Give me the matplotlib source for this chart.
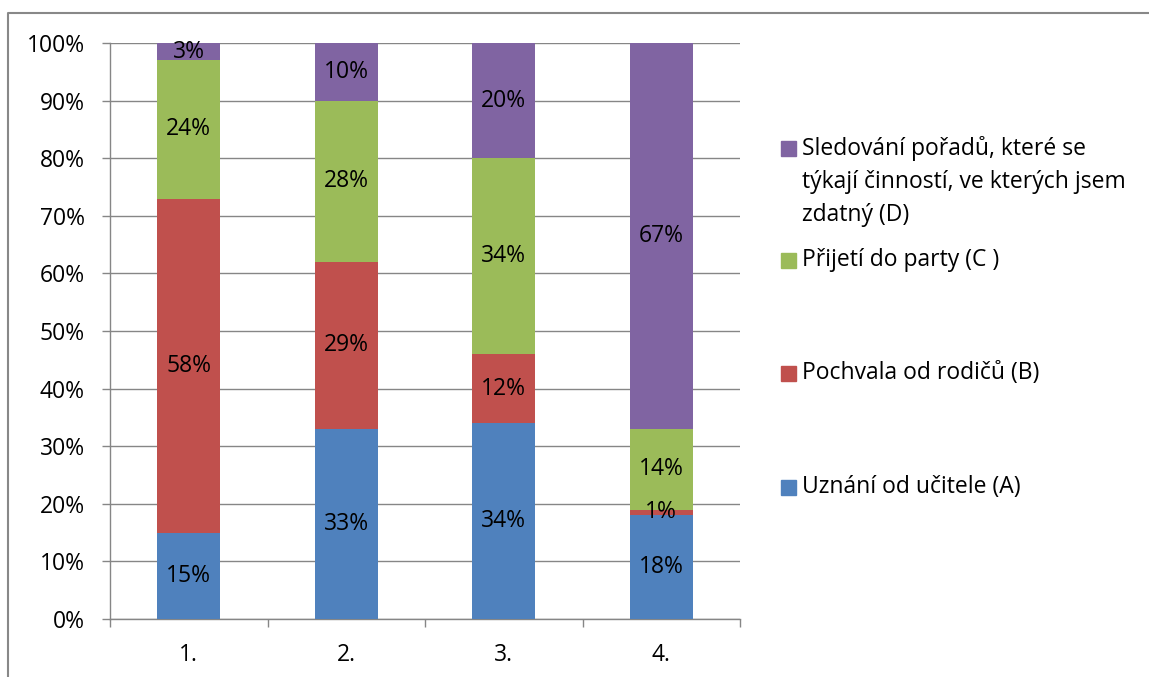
import matplotlib.pyplot as plt
from matplotlib.patches import Rectangle
from matplotlib.lines import Line2D
import numpy as np

plt.rcParams['font.family'] = ['Open Sans', 'DejaVu Sans']

# ====================
# Data
# ====================
categories = ['1.', '2.', '3.', '4.']
uznani = [15, 33, 34, 18]       # A
pochvala = [58, 29, 12, 1]      # B
prijeti = [24, 28, 34, 14]      # C
sledovani = [3, 10, 20, 67]     # D

series = [
    ('Uznání od učitele (A)', uznani, '#4F81BD'),
    ('Pochvala od rodičů (B)', pochvala, '#C0504D'),
    ('Přijetí do party (C )', prijeti, '#9BBB59'),
    ('Sledování pořadů, které se\ntýkají činností, ve kterých jsem\nzdatný (D)', sledovani, '#8064A2'),
]

grid_col = '#868686'
fs = 16.5

fig = plt.figure(figsize=(11.49, 6.77), dpi=100)
ax = fig.add_axes([110 / 1149, 58 / 677, 630 / 1149, 576 / 677])

# outer chart frame (only left/top visible in the crop)
fx, fy = 8 / 1149, 1 - 13 / 677
fig.add_artist(Line2D([fx, fx, 1.0], [0.0, fy, fy], transform=fig.transFigure,
                      color='#888888', lw=1.5))

x = np.arange(len(categories))
bottom = np.zeros(len(categories))
for name, vals, col in series:
    vals = np.array(vals, dtype=float)
    ax.bar(x, vals, 0.4, bottom=bottom, color=col, zorder=3)
    for xi, b, v in zip(x, bottom, vals):
        ax.text(xi, b + v / 2, f'{int(v)}%', ha='center', va='center',
                fontsize=fs, color='black', zorder=4)
    bottom += vals

ax.set_xlim(-0.5, len(categories) - 0.5)
ax.set_ylim(0, 100)
ax.set_yticks(np.arange(0, 101, 10))
ax.set_yticklabels([f'{v}%' for v in range(0, 101, 10)], fontsize=fs)
ax.yaxis.grid(True, color=grid_col, lw=1, zorder=0)
ax.tick_params(axis='y', length=6, color=grid_col, width=1, pad=12)

ax.set_xticks(x)
ax.set_xticklabels(categories, fontsize=fs)
ax.tick_params(axis='x', length=0, pad=17)
ax.set_xticks(np.arange(-0.5, len(categories)), minor=True)
ax.tick_params(axis='x', which='minor', length=6, color=grid_col, width=1)

for s in ['top', 'right']:
    ax.spines[s].set_visible(False)
for s in ['left', 'bottom']:
    ax.spines[s].set_color(grid_col)
    ax.spines[s].set_linewidth(1)

# legend drawn by hand (Excel style, evenly spaced entries)
leg_y = [487, 373, 260, 148]
for (name, vals, col), ypx in zip(series, leg_y):
    yf = 1 - ypx / 677
    fig.patches.append(Rectangle((781 / 1149, yf - 7.5 / 677), 15 / 1149, 15 / 677,
                                 transform=fig.transFigure, color=col))
    fig.text(802 / 1149, yf + 12 / 677, name, fontsize=fs, va='top', ha='left',
             linespacing=1.5)

fig.savefig('out.png', dpi=100)
